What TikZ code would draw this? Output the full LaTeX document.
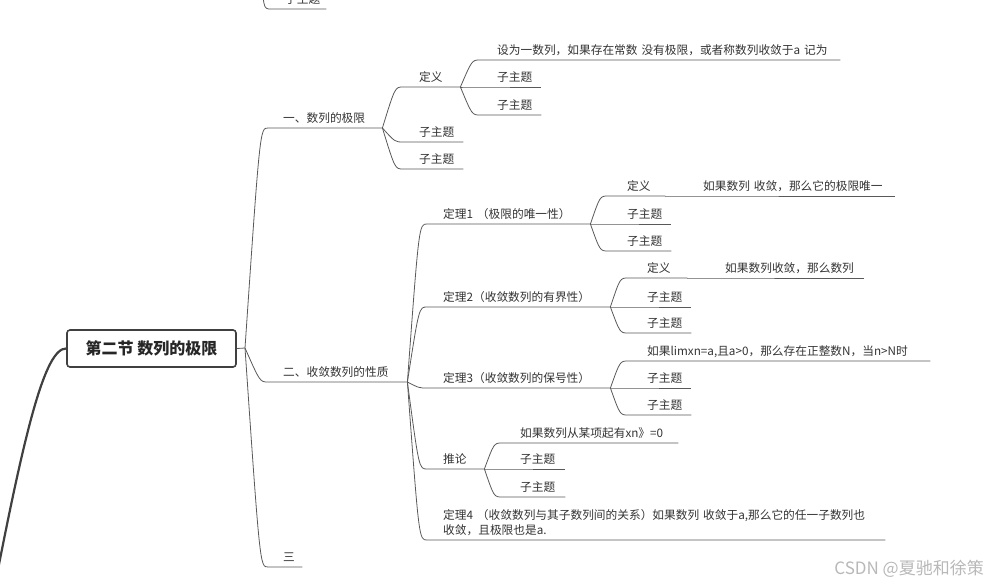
\documentclass[tikz,border=0pt]{standalone}
\usepackage{fontspec}
\setmainfont{Noto Sans CJK SC}
\usepackage{tikz}

\begin{document}
\begin{tikzpicture}[
    x=1pt, y=-1pt,
    topic/.style 2 args={anchor=south west, inner sep=0pt, text depth=5.4pt, text width=#1, align=left,
        font=\fontsize{11.7}{15}\selectfont, text=black!80, execute at begin node={\hspace*{#2}}},
    rootbox/.style={draw=black!75, line width=1.6pt, rounded corners=3pt, minimum width=169pt, minimum height=37pt,
        inner sep=0pt, font=\fontsize{16}{16}\selectfont\bfseries, text=black!85},
    branch/.style={draw=black!65, line width=0.8pt}
]
\useasboundingbox (0,0) rectangle (992,585);

\node[rootbox] (sec) at (151.5,348.5) {第二节 数列的极限};
\coordinate (secj) at (245,348);
\coordinate (prevj) at (262,-40);
\coordinate (offl) at (-6,590);

\node[topic={55pt}{14pt}] (prev) at (271,9) {子主题};

\node[topic={114pt}{15pt}] (lim) at (268,128) {一、数列的极限};
\node[topic={139pt}{15pt}] (prop) at (268,382) {二、收敛数列的性质};
\node[topic={34pt}{15pt}] (three) at (268,567) {三};

\node[topic={57pt}{16pt}] (limdef) at (403,87) {定义};
\node[topic={60pt}{16pt}] (limsub1) at (403,142) {子主题};
\node[topic={60pt}{16pt}] (limsub2) at (403,169) {子主题};

\node[topic={360pt}{17pt}] (limdeftxt) at (480,60) {设为一数列，如果存在常数 没有极限，或者称数列收敛于a 记为};
\node[topic={61pt}{17pt}] (limdefsub1) at (480,87) {子主题};
\node[topic={61pt}{17pt}] (limdefsub2) at (480,115) {子主题};

\node[topic={163pt}{16pt}] (thm1) at (427,224) {定理1 （极限的唯一性）};
\node[topic={183pt}{16pt}] (thm2) at (427,307) {定理2（收敛数列的有界性）};
\node[topic={183pt}{16pt}] (thm3) at (427,388) {定理3（收敛数列的保号性）};
\node[topic={57pt}{16pt}] (cor) at (427,469) {推论};
\node[topic={458pt}{16pt}, text depth=20.5pt] (thm4) at (427,540)
    {定理4 （收敛数列与其子数列间的关系）如果数列 收敛于a,那么它的任一子数列也\\\hspace*{16pt}收敛，且极限也是a.};

\node[topic={57pt}{19pt}] (uniqdef) at (608,196) {定义};
\node[topic={230pt}{38pt}] (uniqtxt) at (665,196) {如果数列 收敛，那么它的极限唯一};
\node[topic={63pt}{19pt}] (uniqsub1) at (608,224) {子主题};
\node[topic={63pt}{19pt}] (uniqsub2) at (608,251) {子主题};

\node[topic={59pt}{19pt}] (bounddef) at (628,278) {定义};
\node[topic={177pt}{38pt}] (boundtxt) at (687,278) {如果数列收敛，那么数列};
\node[topic={63pt}{19pt}] (boundsub1) at (628,307) {子主题};
\node[topic={63pt}{19pt}] (boundsub2) at (628,333) {子主题};

\node[topic={302pt}{19pt}] (signtxt) at (628,361) {如果limxn=a,且a>0，那么存在正整数N，当n>N时};
\node[topic={63pt}{19pt}] (signsub1) at (628,388) {子主题};
\node[topic={63pt}{19pt}] (signsub2) at (628,415) {子主题};

\node[topic={176pt}{18pt}] (cortxt) at (502,443) {如果数列从某项起有xn》=0};
\node[topic={63pt}{18pt}] (corsub1) at (502,469) {子主题};
\node[topic={63pt}{18pt}] (corsub2) at (502,497) {子主题};

\node[text=black!28, font=\fontsize{17}{17}\selectfont, anchor=east, inner sep=0pt] (mark) at (984,569) {CSDN @夏驰和徐策};

\draw[draw=black!75, line width=2.2pt] (sec.west) .. controls (45,348) and (25,430) .. (offl);
\draw[branch] (sec.east) -- (secj);
\draw[branch] (prevj) .. controls ([xshift=-8pt]prev.south west) .. (prev.south west) -- (prev.south east);

\foreach \c in {lim,prop,three}
  \draw[branch] (secj) .. controls ([xshift=-8pt]\c.south west) .. (\c.south west) -- (\c.south east);
\foreach \c in {limdef,limsub1,limsub2}
  \draw[branch] (lim.south east) .. controls ([xshift=-8pt]\c.south west) .. (\c.south west) -- (\c.south east);
\foreach \c in {limdeftxt,limdefsub1,limdefsub2}
  \draw[branch] (limdef.south east) .. controls ([xshift=-8pt]\c.south west) .. (\c.south west) -- (\c.south east);
\foreach \c in {thm1,thm2,thm3,cor,thm4}
  \draw[branch] (prop.south east) .. controls ([xshift=-8pt]\c.south west) .. (\c.south west) -- (\c.south east);
\foreach \c in {uniqdef,uniqsub1,uniqsub2}
  \draw[branch] (thm1.south east) .. controls ([xshift=-8pt]\c.south west) .. (\c.south west) -- (\c.south east);
\foreach \c in {bounddef,boundsub1,boundsub2}
  \draw[branch] (thm2.south east) .. controls ([xshift=-8pt]\c.south west) .. (\c.south west) -- (\c.south east);
\foreach \c in {signtxt,signsub1,signsub2}
  \draw[branch] (thm3.south east) .. controls ([xshift=-8pt]\c.south west) .. (\c.south west) -- (\c.south east);
\foreach \c in {cortxt,corsub1,corsub2}
  \draw[branch] (cor.south east) .. controls ([xshift=-8pt]\c.south west) .. (\c.south west) -- (\c.south east);
\draw[branch] (uniqdef.south east) -- (uniqtxt.south west) -- (uniqtxt.south east);
\draw[branch] (bounddef.south east) -- (boundtxt.south west) -- (boundtxt.south east);
\end{tikzpicture}
\end{document}
